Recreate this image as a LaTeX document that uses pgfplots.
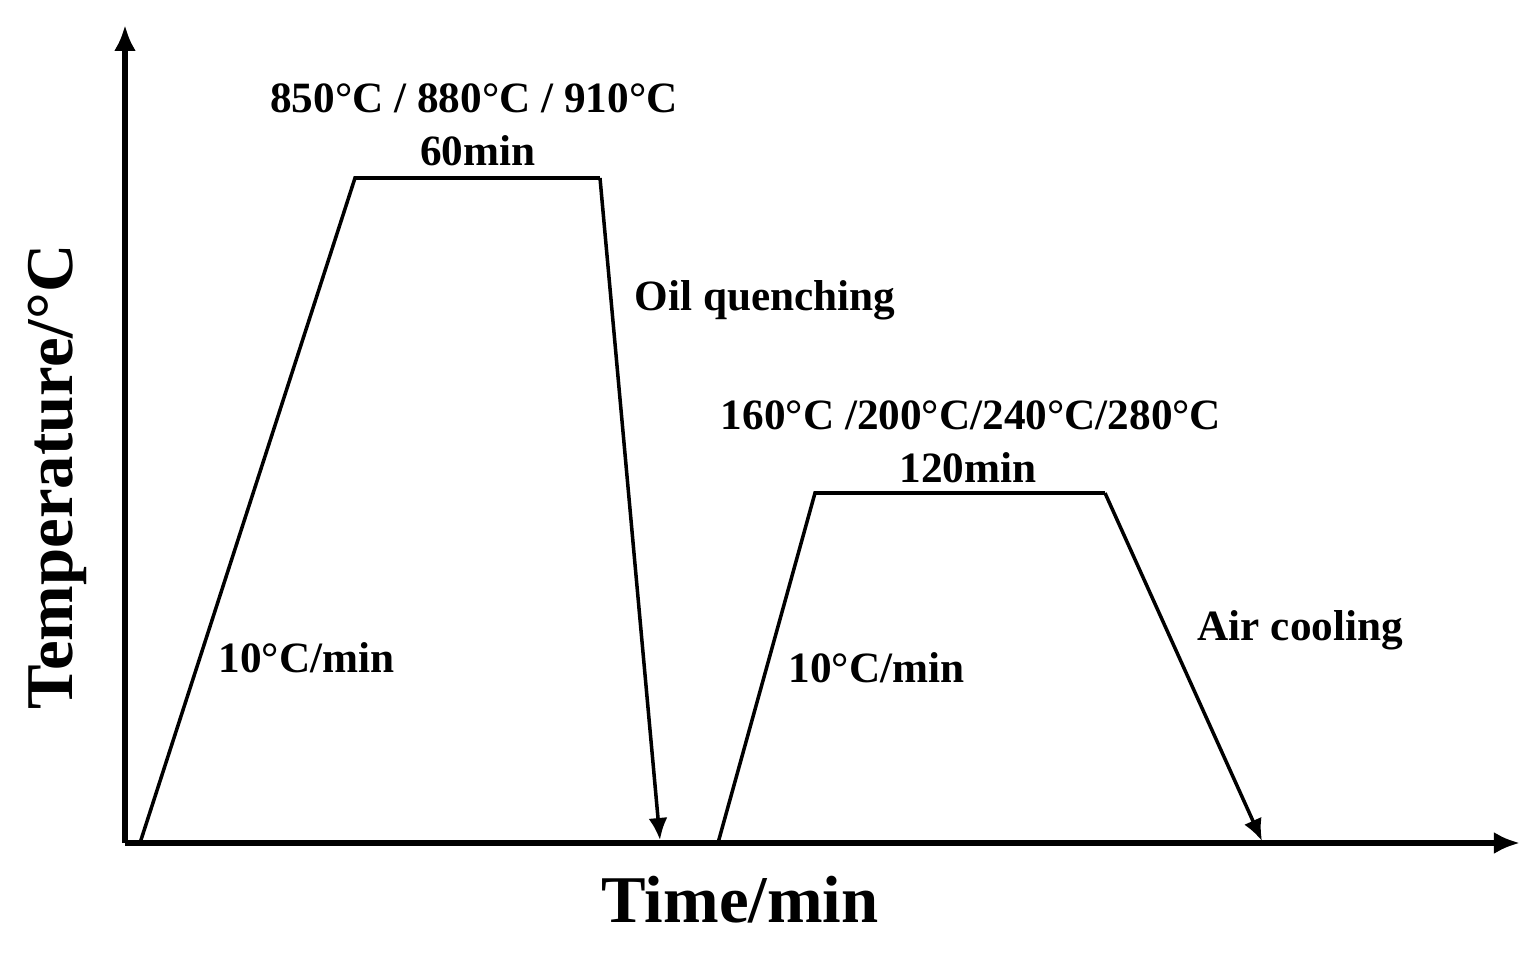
\documentclass[border=0pt]{standalone}
\usepackage{fontspec}
\setmainfont{Liberation Serif}
\usepackage{pgfplots}
\pgfplotsset{compat=1.18}
\usetikzlibrary{arrows.meta}
\tikzset{lab/.style={font=\bfseries\fontsize{12.3}{15}\selectfont}}
\begin{document}
\begin{tikzpicture}
\begin{axis}[
    scale only axis,
    width=13.95cm, height=8.18cm,
    xmin=125, xmax=1520, ymin=111, ymax=929,
    axis lines=left,
    axis line style={line width=1.5pt},
    x axis line style={-{Latex[length=2.6mm,width=2.2mm]}},
    y axis line style={-{Latex[length=2.6mm,width=2.2mm]}},
    xtick=\empty, ytick=\empty,
    clip=false,
]
  % white frame to fix the picture size (pixel units)
  \path (axis cs:0,0) rectangle (axis cs:1540,954);

  % austenitizing
  \addplot[black, line width=1pt] coordinates {
    (140,111) (355,776) (600,776)
  };
  \addplot[black, line width=1pt, -{Latex[length=2.2mm,width=1.9mm]}] coordinates {
    (600,776) (660,114)
  };
  % tempering
  \addplot[black, line width=1pt] coordinates {
    (718,111) (815,461) (1105,461)
  };
  \addplot[black, line width=1pt, -{Latex[length=2.2mm,width=1.9mm]}] coordinates {
    (1105,461) (1262,113)
  };

  \node[lab] at (axis cs:474,856) {850°C / 880°C / 910°C};
  \node[lab] at (axis cs:478,803) {60min};
  \node[lab, anchor=west, inner sep=0pt] at (axis cs:634,654) {Oil quenching};
  \node[lab] at (axis cs:971,539) {160°C /200°C/240°C/280°C};
  \node[lab] at (axis cs:968,486) {120min};
  \node[lab, anchor=west, inner sep=0pt] at (axis cs:1197,324) {Air cooling};
  \node[lab, anchor=west, inner sep=0pt] at (axis cs:218,296) {10°C/min};
  \node[lab, anchor=west, inner sep=0pt] at (axis cs:788,286) {10°C/min};

  \node[font=\bfseries\fontsize{19}{22}\selectfont] at (axis cs:740,54) {Time/min};
  \node[font=\bfseries\fontsize{19}{22}\selectfont, rotate=90] at (axis cs:57,477) {Temperature/°C};
\end{axis}
\end{tikzpicture}
\end{document}
